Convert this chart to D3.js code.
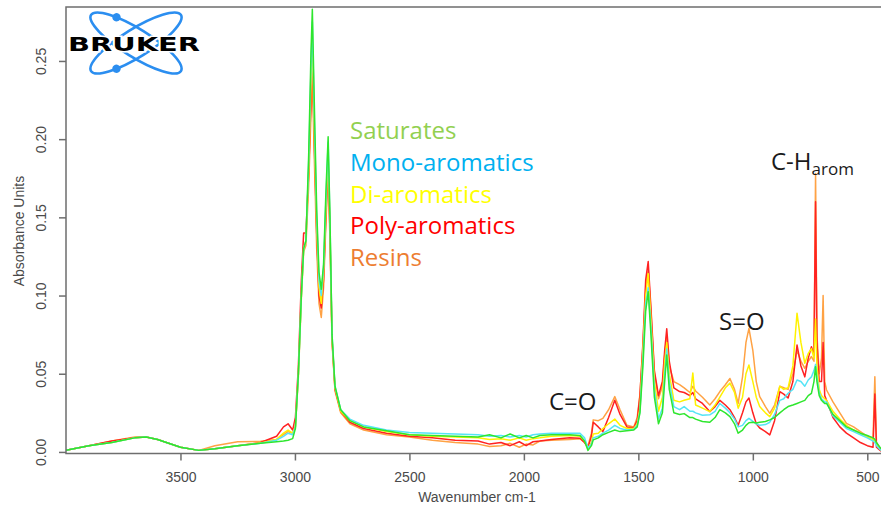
<!DOCTYPE html>
<html>
<head>
<meta charset="utf-8">
<script src="https://cdn.jsdelivr.net/npm/d3@7"></script>
<style>
  html, body { margin: 0; padding: 0; background: #fff; }
  svg { display: block; }
</style>
</head>
<body>
<svg id="chart" width="881" height="506"></svg>
<script>
// FTIR absorbance spectra of SARA fractions (wavenumber in cm-1, descending)
const wavenumbers = [
  4000, 3900, 3800, 3700, 3650, 3600, 3500, 3420, 3350, 3250,
  3150, 3080, 3050, 3030, 3010, 2998, 2985, 2972, 2962, 2952,
  2940, 2930, 2924, 2915, 2905, 2895, 2885, 2875, 2865, 2855,
  2847, 2838, 2825, 2800, 2760, 2700, 2600, 2500, 2400, 2300,
  2200, 2150, 2100, 2060, 2020, 1990, 1960, 1930, 1880, 1800,
  1755, 1735, 1720, 1705, 1697, 1675, 1655, 1630, 1603, 1580,
  1550, 1520, 1505, 1493, 1480, 1468, 1457, 1445, 1430, 1412,
  1395, 1385, 1376, 1365, 1345, 1320, 1300, 1275, 1262, 1250,
  1220, 1188, 1165, 1144, 1120, 1100, 1080, 1064, 1045, 1030,
  1017, 1000, 985, 970, 945, 926, 905, 882, 865, 846,
  825, 807, 790, 773, 758, 744, 733, 726, 720, 710,
  700, 693, 686, 678, 650, 620, 591, 560, 530, 500,
  475, 467, 460, 440
];

const saturates = [
  .001, .004, .006, .009, .0095, .008, .003, .001, .002, .004,
  .0055, .0065, .007, .0075, .0085, .015, .05, .10, .13, .135,
  .19, .255, .283, .22, .155, .115, .104, .12, .165, .2015,
  .15, .075, .042, .027, .02, .016, .0135, .011, .0105, .010,
  .0095, .011, .009, .0115, .009, .0105, .009, .0105, .011, .011,
  .0105, .007, .001, .004, .0077, .009, .011, .0125, .014, .013,
  .0135, .014, .016, .025, .055, .09, .1025, .075, .035, .018,
  .025, .045, .062, .04, .025, .024, .0245, .022, .022, .021,
  .0195, .019, .022, .027, .025, .0226, .018, .012, .014, .017,
  .0187, .019, .0185, .019, .0195, .0205, .022, .025, .027, .029,
  .030, .031, .032, .033, .036, .0375, .045, .0545, .045, .036,
  .033, .032, .031, .031, .024, .020, .016, .014, .012, .0105,
  .009, .008, .006, .002
];

const monoAromatics = [
  .001, .004, .006, .009, .0095, .008, .003, .001, .002, .004,
  .0055, .0075, .010, .012, .011, .016, .05, .10, .13, .135,
  .185, .245, .275, .21, .15, .11, .10, .118, .16, .198,
  .148, .075, .042, .027, .021, .017, .014, .0125, .012, .0115,
  .011, .010, .0105, .0095, .0105, .0095, .011, .0115, .012, .012,
  .012, .009, .0025, .005, .009, .010, .012, .014, .017, .015,
  .014, .0145, .017, .026, .06, .095, .105, .08, .04, .021,
  .028, .05, .066, .045, .029, .027, .029, .026, .026, .025,
  .0235, .0237, .026, .031, .028, .025, .021, .016, .017, .020,
  .0215, .0195, .018, .017, .0175, .019, .024, .033, .034, .0375,
  .040, .046, .045, .042, .046, .048, .052, .056, .048, .038,
  .034, .033, .032, .032, .023, .019, .015, .013, .011, .009,
  .007, .006, .004, .001
];

const diAromatics = [
  .001, .004, .006, .009, .0095, .008, .003, .001, .002, .004,
  .0058, .008, .012, .014, .012, .016, .05, .10, .13, .135,
  .18, .235, .262, .20, .145, .105, .095, .115, .155, .19,
  .145, .073, .041, .026, .02, .016, .013, .011, .010, .0095,
  .009, .008, .0085, .0075, .009, .0075, .0085, .009, .010, .0105,
  .010, .007, .0025, .006, .0115, .012, .015, .018, .021, .017,
  .015, .015, .018, .028, .065, .10, .114, .085, .045, .026,
  .035, .058, .07, .05, .033, .032, .033, .034, .0505, .030,
  .028, .0258, .030, .035, .041, .044, .038, .028, .035, .050,
  .0556, .045, .035, .029, .025, .0226, .028, .042, .040, .041,
  .055, .0887, .070, .0567, .063, .066, .060, .085, .055, .040,
  .036, .035, .034, .033, .026, .021, .017, .014, .012, .0095,
  .008, .007, .005, .001
];

const polyAromatics = [
  .001, .004, .007, .009, .0095, .008, .003, .001, .002, .004,
  .006, .010, .016, .018, .014, .022, .055, .11, .14, .14,
  .178, .225, .25, .195, .14, .10, .092, .11, .15, .185,
  .14, .072, .040, .026, .019, .015, .012, .010, .009, .0075,
  .007, .005, .006, .004, .0065, .004, .0065, .007, .008, .009,
  .0088, .006, .0028, .010, .019, .016, .013, .022, .033, .024,
  .016, .0155, .020, .036, .07, .11, .1217, .092, .052, .036,
  .045, .065, .0787, .058, .041, .0386, .038, .036, .038, .034,
  .031, .0258, .029, .033, .030, .027, .022, .017, .025, .032,
  .0345, .025, .018, .0153, .013, .0109, .020, .0386, .037, .0345,
  .045, .0684, .055, .048, .060, .0673, .062, .160, .07, .045,
  .045, .07, .036, .033, .022, .016, .012, .009, .006, .004,
  .003, .037, .003, .0005
];

const resins = [
  .001, .004, .007, .0095, .0095, .008, .003, .001, .004, .0065,
  .0068, .008, .011, .013, .012, .016, .048, .098, .128, .132,
  .17, .215, .24, .185, .13, .095, .086, .105, .145, .18,
  .135, .07, .039, .025, .018, .014, .011, .0095, .0075, .006,
  .005, .0035, .004, .0055, .003, .005, .0045, .007, .0075, .008,
  .0085, .006, .004, .012, .0205, .020, .0215, .027, .0354, .027,
  .017, .016, .022, .037, .068, .105, .117, .09, .05, .034,
  .042, .062, .074, .055, .045, .043, .041, .038, .042, .039,
  .035, .030, .034, .0386, .043, .047, .040, .031, .048, .070,
  .079, .065, .045, .0354, .029, .0247, .030, .042, .041, .040,
  .050, .065, .058, .0535, .058, .061, .058, .178, .075, .05,
  .06, .100, .045, .0396, .032, .025, .0183, .016, .013, .010,
  .009, .048, .006, .0015
];

const seriesNames = ["Saturates", "Mono-aromatics", "Di-aromatics", "Poly-aromatics", "Resins"];
const seriesValues = [saturates, monoAromatics, diAromatics, polyAromatics, resins];
const lineColors = ["#2ee62e", "#55e4f6", "#fff200", "#ff2222", "#ffa244"];
const legendColors = ["#92d050", "#00b0f0", "#ffff00", "#ff0000", "#ed7d31"];

const xTickValues = [3500, 3000, 2500, 2000, 1500, 1000, 500];
const yTickValues = [0, 0.05, 0.10, 0.15, 0.20, 0.25];

const svg = d3.select("#chart");
svg.append("rect").attr("width", 881).attr("height", 506).attr("fill", "#fff");

const plot = { left: 66, top: 7, bottom: 453.5 };

const x = d3.scaleLinear().domain([4000, 500]).range([66, 867.3]);
const y = d3.scaleLinear().domain([-0.001, 0.2845]).range([plot.bottom, plot.top]);

svg.append("defs").append("clipPath").attr("id", "plotClip")
  .append("rect").attr("x", plot.left).attr("y", plot.top)
  .attr("width", 900).attr("height", plot.bottom - plot.top);

// spectra, drawn from the last fraction to the first
const line = d3.line().x(d => x(d[0])).y(d => y(d[1]));
const spectra = svg.append("g").attr("clip-path", "url(#plotClip)");
for (let i = seriesValues.length - 1; i >= 0; i--) {
  const pts = wavenumbers.map((w, j) => [w, seriesValues[i][j]]);
  spectra.append("path")
    .attr("d", line(pts))
    .attr("fill", "none")
    .attr("stroke", lineColors[i])
    .attr("stroke-width", 1.5)
    .attr("stroke-linejoin", "round");
}

// frame
svg.append("rect")
  .attr("x", plot.left).attr("y", plot.top)
  .attr("width", 900).attr("height", plot.bottom - plot.top)
  .attr("fill", "none").attr("stroke", "#6e6e6e").attr("stroke-width", 1.5);

const axisFont = "'Liberation Sans', Arial, sans-serif";

// x axis
const xAxis = svg.append("g")
  .attr("transform", `translate(0,${plot.bottom})`)
  .call(d3.axisBottom(x).tickValues(xTickValues).tickSize(7).tickPadding(12).tickFormat(d3.format("d")));
xAxis.select(".domain").remove();
xAxis.selectAll(".tick line").attr("stroke", "#6e6e6e").attr("stroke-width", 1.5);
xAxis.selectAll(".tick text").attr("fill", "#4a4a4a").style("font", `14px ${axisFont}`);

// y axis
const yAxis = svg.append("g")
  .attr("transform", `translate(${plot.left},0)`)
  .call(d3.axisLeft(y).tickValues(yTickValues).tickSize(7).tickFormat(d3.format(".2f")));
yAxis.select(".domain").remove();
yAxis.selectAll(".tick line").attr("stroke", "#6e6e6e").attr("stroke-width", 1.5);
yAxis.selectAll(".tick text")
  .attr("x", null).attr("dy", null)
  .attr("transform", "translate(-20,0) rotate(-90)")
  .attr("text-anchor", "middle")
  .attr("fill", "#4a4a4a").style("font", `14px ${axisFont}`);

// axis titles
svg.append("text")
  .attr("x", 477).attr("y", 502).attr("text-anchor", "middle")
  .attr("fill", "#4a4a4a").style("font", `14px ${axisFont}`)
  .text("Wavenumber cm-1");
svg.append("text")
  .attr("transform", "translate(24,231) rotate(-90)").attr("text-anchor", "middle")
  .attr("fill", "#4a4a4a").style("font", `14px ${axisFont}`)
  .text("Absorbance Units");

// legend
const labelFont = "'Open Sans', 'Noto Sans', sans-serif";
svg.append("g").selectAll("text")
  .data(seriesNames)
  .join("text")
  .attr("x", 350)
  .attr("y", (d, i) => 139 + i * 31.8)
  .attr("fill", (d, i) => legendColors[i])
  .style("font", `24px ${labelFont}`)
  .text(d => d);

// band annotations
const notes = svg.append("g").attr("fill", "#1a1a1a").style("font", `24px ${labelFont}`);
notes.append("text").attr("x", 549).attr("y", 410).text("C=O");
notes.append("text").attr("x", 719).attr("y", 330).text("S=O");
const ch = notes.append("text").attr("x", 771).attr("y", 170);
ch.append("tspan").text("C-H");
ch.append("tspan").attr("dy", 5).style("font-size", "17px").text("arom");

// logo
const logo = svg.append("g").attr("transform", "translate(136,43)");
const blue = "#2b8ef0";
[32, -32].forEach((angle, k) => {
  const g = logo.append("g").attr("transform", `rotate(${angle})`);
  g.append("ellipse").attr("rx", 53).attr("ry", 14)
    .attr("fill", "none").attr("stroke", blue).attr("stroke-width", 2.6);
  g.append("circle").attr("cx", -30.2).attr("cy", k === 0 ? -11.5 : 11.5).attr("r", 4.2).attr("fill", blue);
});
logo.append("text")
  .attr("x", -68).attr("y", 7.5)
  .attr("textLength", 132).attr("lengthAdjust", "spacingAndGlyphs")
  .attr("fill", "#000").attr("stroke", "#fff").attr("stroke-width", 3)
  .attr("paint-order", "stroke")
  .style("font", "bold 20px 'DejaVu Sans', sans-serif")
  .style("font-weight", 900)
  .text("BRUKER");
</script>
</body>
</html>
